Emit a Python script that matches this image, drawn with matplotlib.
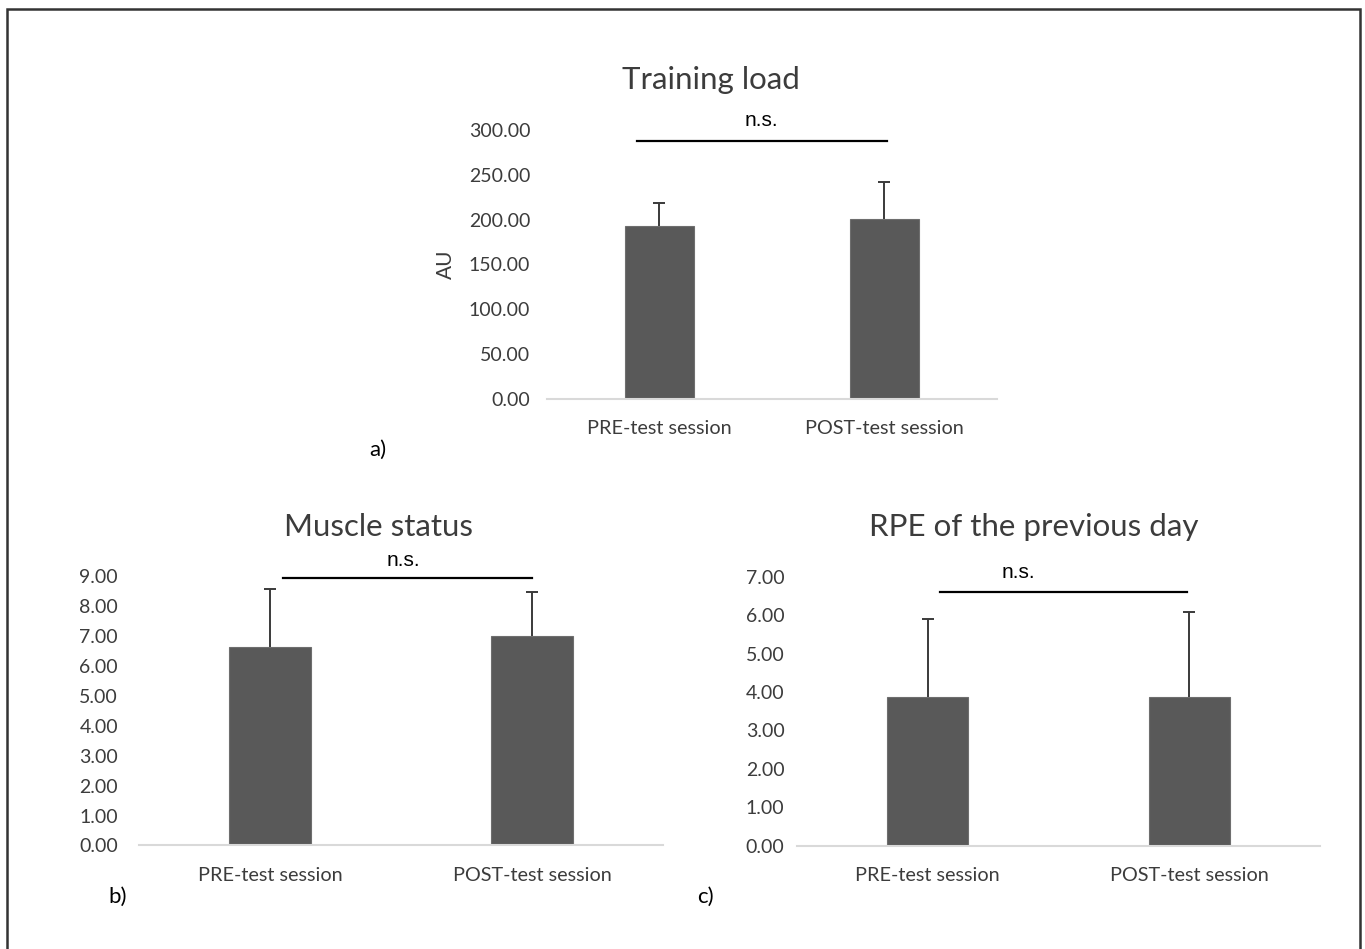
import numpy as np
import matplotlib
matplotlib.use('Agg')
import matplotlib.pyplot as plt
from matplotlib.patches import Rectangle
from matplotlib.ticker import FormatStrFormatter

plt.rcParams['font.family'] = ['Lato', 'DejaVu Sans']

# session groups and the values for each panel (mean, SD)
sessions = ['PRE-test session', 'POST-test session']
load_mean = [192.7, 200.5]
load_sd = [26.1, 41.4]
muscle_mean = [6.63, 6.99]
muscle_sd = [1.94, 1.48]
rpe_mean = [3.88, 3.88]
rpe_sd = [2.03, 2.19]

BAR = '#595959'
TXT = '#3c3c3c'

fig = plt.figure(figsize=(13.65, 9.49), dpi=100)


def panel(rect, means, sds, ymax, step, label_pad, ns_y, ns_x, ns_line, ns_text_y):
    ax = fig.add_axes(rect)
    x = np.arange(len(sessions))
    means = np.asarray(means)
    sds = np.asarray(sds)
    ax.bar(x, means, width=0.31, color=BAR, edgecolor='#6e6e6e', linewidth=0.8, zorder=2)
    # upper error bars only, cap at the top end
    ax.vlines(x, means, means + sds, color='#3a3a3a', lw=1.4, zorder=3)
    ax.plot(x, means + sds, ls='none', marker='_', ms=9, mew=1.4, color='#3a3a3a', zorder=3)
    ax.set_xlim(-0.5, 1.5)
    ax.set_ylim(0, ymax)
    ax.set_yticks(np.arange(0, ymax + step / 2, step))
    ax.yaxis.set_major_formatter(FormatStrFormatter('%.2f'))
    ax.set_xticks(x)
    ax.set_xticklabels(sessions)
    for s in ['top', 'right', 'left']:
        ax.spines[s].set_visible(False)
    ax.spines['bottom'].set_color('#d9d9d9')
    ax.spines['bottom'].set_linewidth(1.5)
    ax.tick_params(axis='both', length=0, colors=TXT)
    ax.tick_params(axis='y', pad=label_pad, labelsize=14)
    ax.tick_params(axis='x', pad=15.5, labelsize=14.3)
    ax.set_facecolor('none')

    # significance bracket
    ax.plot(ns_line, [ns_y, ns_y], color='black', lw=1.6, clip_on=False, zorder=4)
    ax.text(ns_x, ns_text_y, 'n.s.', ha='center', va='center', fontsize=15,
            family=['Liberation Sans', 'DejaVu Sans'], color='black', clip_on=False)
    return ax


ax_a = panel([0.4007, 0.580, 0.3297, 0.2829], load_mean, load_sd, 300, 50, 12,
             287.7, 0.453, [-0.10, 1.01], 311)
ax_a.set_ylabel('AU', fontsize=15, color=TXT, labelpad=9)

ax_b = panel([0.1018, 0.1091, 0.3839, 0.2840], muscle_mean, muscle_sd, 9, 1, 15,
             8.93, 0.51, [0.048, 0.999], 9.5)

ax_c = panel([0.5839, 0.1088, 0.3832, 0.2835], rpe_mean, rpe_sd, 7, 1, 9,
             6.59, 0.345, [0.046, 0.99], 7.12)

# panel titles
fig.text(711 / 1365, 1 - 80 / 949, 'Training load', ha='center', va='center',
         fontsize=22.5, color=TXT)
fig.text(378 / 1365, 1 - 527 / 949, 'Muscle status', ha='center', va='center',
         fontsize=22.5, color=TXT)
fig.text(1034 / 1365, 1 - 527 / 949, 'RPE of the previous day', ha='center', va='center',
         fontsize=22.5, color=TXT)

# panel letters
fig.text(378 / 1365, 1 - 450 / 949, 'a)', ha='center', va='center', fontsize=16, color='black')
fig.text(118 / 1365, 1 - 897 / 949, 'b)', ha='center', va='center', fontsize=16, color='black')
fig.text(705 / 1365, 1 - 897 / 949, 'c)', ha='center', va='center', fontsize=16, color='black')

# outer frame
fig.patches.append(Rectangle((7 / 1365, -0.05), (1360 - 7) / 1365, 1.05 - 9 / 949,
                             transform=fig.transFigure, fill=False,
                             edgecolor='#333333', linewidth=1.8))

fig.savefig('out.png', dpi=100)
